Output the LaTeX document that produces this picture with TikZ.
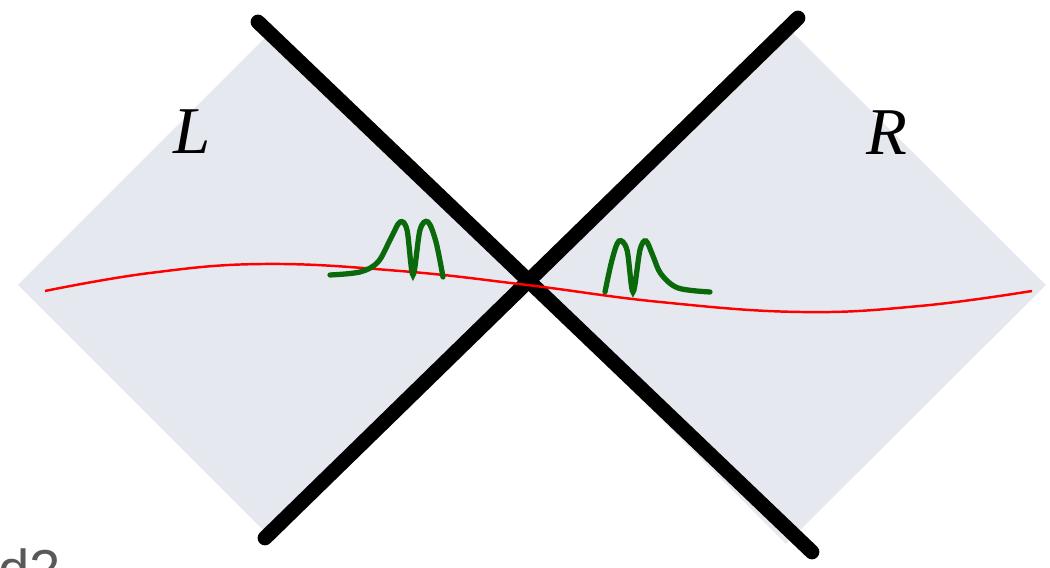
\documentclass[tikz,border=0pt]{standalone}
\usepackage{fontspec}
\newfontfamily\notefont{Liberation Sans}
\newfontfamily\wedgefont{Liberation Serif}
\usetikzlibrary{positioning}

\definecolor{wedgegray}{HTML}{E5E8EE}
\definecolor{pulsegreen}{HTML}{0A690A}

\begin{document}
\begin{tikzpicture}[
  x=0.01cm, y=-0.01cm,
  wedge/.style={fill=wedgegray, draw=none},
  horizon/.style={line width=4.2pt, line cap=round, black},
  slice/.style={line width=0.7pt, red},
  pulse/.style={line width=1.5pt, pulsegreen, line cap=round},
  lbl/.style={font=\wedgefont\itshape\fontsize{19}{22}\selectfont, inner sep=0pt},
]
\useasboundingbox (0,0) rectangle (1050,568);

% ===== Corners of the two wedges =====
\coordinate (c)  at (527,285);
\coordinate (lw) at (18,285);
\coordinate (lt) at (272,31);
\coordinate (lb) at (272,539);
\coordinate (rw) at (1046,285);
\coordinate (rt) at (786,26);
\coordinate (rb) at (786,544);

% ===== Left and right wedges =====
\fill[wedge] (c) -- (lt) -- (lw) -- (lb) -- cycle;
\fill[wedge] (c) -- (rt) -- (rw) -- (rb) -- cycle;

% ===== Horizons =====
\coordinate (h1a) at (258,22);
\coordinate (h1b) at (812,552);
\coordinate (h2a) at (798,18);
\coordinate (h2b) at (265,538);
\draw[horizon] (h1a) -- (h1b);
\draw[horizon] (h2a) -- (h2b);

% ===== Cauchy slice =====
\draw[slice] plot[smooth, tension=0.7] coordinates
  {(45,291) (150,273) (265,264) (400,271) (527,285) (660,302) (800,312) (920,306) (1032,291)};

% ===== Pulses =====
\draw[pulse] plot[smooth, tension=0.55] coordinates
  {(330,275) (360,272) (378,262) (391,238) (400,222) (407,230) (413,275) (420,230) (428,222) (436,242) (443,277)};
\draw[pulse] plot[smooth, tension=0.55] coordinates
  {(605,292) (612,260) (619,241) (627,250) (633,292) (640,250) (646,241) (653,256) (661,274) (678,288) (710,292)};

% ===== Labels =====
\node[lbl] (lL) at (192,132) {L};
\node[lbl] (lR) at (887,133) {R};
\node[font=\notefont\fontsize{16}{18}\selectfont, text=black!65, anchor=base west, inner sep=0pt]
  (tag) at (-2,590) {d2};

\end{tikzpicture}
\end{document}
